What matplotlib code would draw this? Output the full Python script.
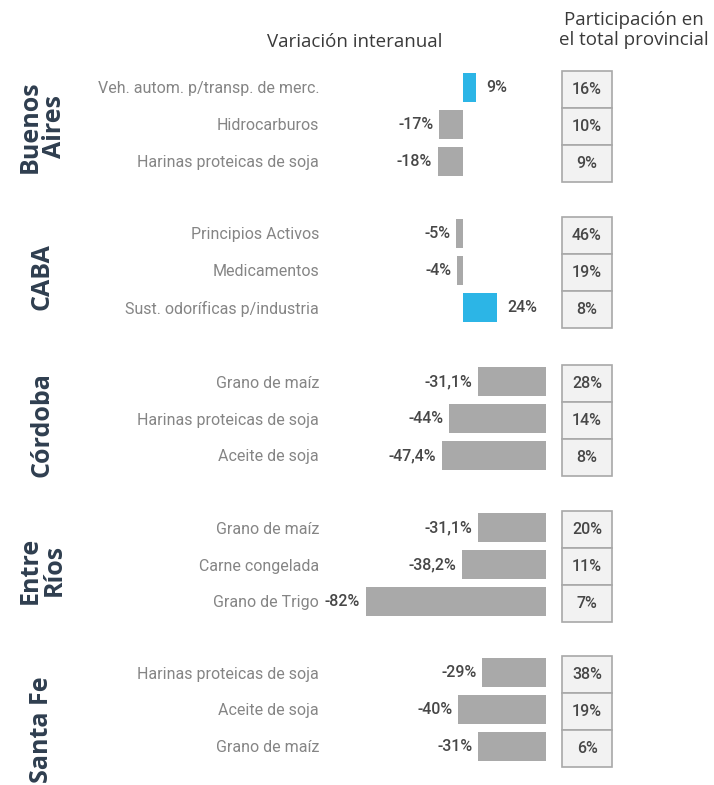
# Variación interanual de exportaciones por provincia

import numpy as np
import matplotlib.pyplot as plt

# Datos
provincias = ['Buenos\nAires', 'CABA', 'Córdoba', 'Entre\nRíos', 'Santa Fe']

productos_ba = ['Veh. autom. p/transp. de merc.', 'Hidrocarburos', 'Harinas proteicas de soja']
productos_caba = ['Principios Activos', 'Medicamentos', 'Sust. odoríficas p/industria']
productos_cba = ['Grano de maíz', 'Harinas proteicas de soja', 'Aceite de soja']
productos_er = ['Grano de maíz', 'Carne congelada', 'Grano de Trigo']
productos_sf = ['Harinas proteicas de soja', 'Aceite de soja', 'Grano de maíz']

variacion_ba = [9, -17, -18]
variacion_caba = [-5, -4, 24]
variacion_cba = [-31.1, -44, -47.4]
variacion_er = [-31.1, -38.2, -82]
variacion_sf = [-29, -40, -31]

etiquetas_ba = ['9%', '-17%', '-18%']
etiquetas_caba = ['-5%', '-4%', '24%']
etiquetas_cba = ['-31,1%', '-44%', '-47,4%']
etiquetas_er = ['-31,1%', '-38,2%', '-82%']
etiquetas_sf = ['-29%', '-40%', '-31%']

participacion_ba = [16, 10, 9]
participacion_caba = [46, 19, 8]
participacion_cba = [28, 14, 8]
participacion_er = [20, 11, 7]
participacion_sf = [38, 19, 6]

productos = [productos_ba, productos_caba, productos_cba, productos_er, productos_sf]
variaciones = [variacion_ba, variacion_caba, variacion_cba, variacion_er, variacion_sf]
etiquetas = [etiquetas_ba, etiquetas_caba, etiquetas_cba, etiquetas_er, etiquetas_sf]
participaciones = [participacion_ba, participacion_caba, participacion_cba,
                   participacion_er, participacion_sf]

# Layout (pixeles)
W, H = 714, 785
tops = [69, 215, 363, 509, 654]
pitch = 37
ceros = [463, 463, 546, 546, 546]
escalas = [1.4, 1.4, 2.2, 2.2, 2.2]
bar_left, bar_right = 326, 556
box_left, box_right = 562, 612
label_y = [127, 277, 425, 570, 730]

azul = '#2cb5e6'
gris = '#a9a9a9'

plt.rcParams['font.family'] = ['Roboto', 'DejaVu Sans']

fig = plt.figure(figsize=(W / 100, H / 100), dpi=100)


def frac(x0, y0, x1, y1):
    return [x0 / W, 1 - y1 / H, (x1 - x0) / W, (y1 - y0) / H]


for i in range(len(provincias)):
    y0 = tops[i]
    y1 = y0 + 3 * pitch
    filas = np.arange(3)

    # Barras de variacion
    ax = fig.add_axes(frac(bar_left, y0, bar_right, y1))
    xmin = -(ceros[i] - bar_left) / escalas[i]
    xmax = (bar_right - ceros[i]) / escalas[i]
    ax.set_xlim(xmin, xmax)
    ax.set_ylim(2.5, -0.5)
    colores = [azul if v > 0 else gris for v in variaciones[i]]
    ax.barh(filas, variaciones[i], height=0.78, color=colores)
    for f, v, t in zip(filas, variaciones[i], etiquetas[i]):
        if v > 0:
            ax.annotate(t, (v, f), xytext=(8, 0), textcoords='offset points',
                        ha='left', va='center', fontsize=11.5, color='#474747',
                        fontweight='medium')
        else:
            ax.annotate(t, (v, f), xytext=(-4, 0), textcoords='offset points',
                        ha='right', va='center', fontsize=11.5, color='#474747',
                        fontweight='medium')
    ax.set_yticks(filas)
    ax.set_yticklabels(productos[i], fontsize=11.5, color='#858585')
    ax.tick_params(axis='y', length=0, pad=5)
    ax.set_xticks([])
    for s in ax.spines.values():
        s.set_visible(False)
    ax.patch.set_alpha(0)

    # Cajas de participacion
    bx = fig.add_axes(frac(box_left, y0 + 2, box_right, y1 + 2))
    bx.set_xlim(0, 1)
    bx.set_ylim(2.5, -0.5)
    bx.barh(filas, [1] * 3, height=1, left=0, color='#f2f2f2', edgecolor='#a8a8a8',
            linewidth=1.2, clip_on=False)
    for f, p in zip(filas, participaciones[i]):
        bx.text(0.5, f, f'{p}%', ha='center', va='center', fontsize=11.5,
                color='#474747', fontweight='medium')
    bx.axis('off')

    # Nombre de provincia
    fig.text(42 / W, 1 - label_y[i] / H, provincias[i], rotation=90, ha='center',
             va='center', fontsize=18, fontweight='bold', color='#2f3e4f',
             family=['Open Sans', 'DejaVu Sans'], linespacing=0.95,
             multialignment='center')

# Encabezados
fig.text(355 / W, 1 - 42 / H, 'Variación interanual', ha='center', va='center',
         fontsize=13.5, color='#3a3a3a', family=['Open Sans', 'DejaVu Sans'])
fig.text(634 / W, 1 - 30 / H, 'Participación en\nel total provincial', ha='center',
         va='center', fontsize=13.5, color='#3a3a3a', linespacing=1.15,
         family=['Open Sans', 'DejaVu Sans'])

fig.savefig('out.png', dpi=100)
